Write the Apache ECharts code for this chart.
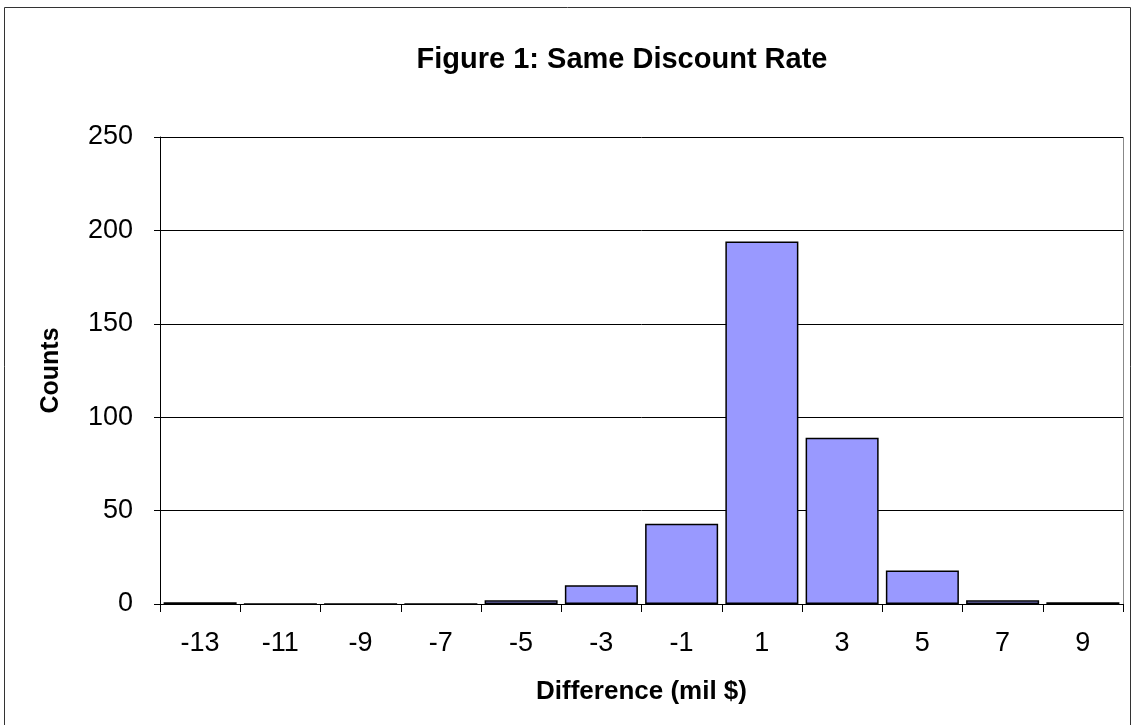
<!DOCTYPE html>
<html><head><meta charset="utf-8">
<script src="https://cdn.jsdelivr.net/npm/echarts@6/dist/echarts.min.js"></script>
<style>html,body{margin:0;padding:0;background:#fff}#c{width:1133px;height:725px}</style>
</head><body><div id="c"></div>
<script>
const categories = ['-13','-11','-9','-7','-5','-3','-1','1','3','5','7','9'];
const counts = [1, 0, 0, 0, 2, 10, 43, 194, 89, 18, 2, 1];
const yTicks = [0, 50, 100, 150, 200, 250];

const chart = echarts.init(document.getElementById('c'), null, {renderer:'canvas'});
const font = '"Liberation Sans", Arial, sans-serif';
chart.setOption({
  animation: false,
  backgroundColor: '#fff',
  title: {
    text: 'Figure 1: Same Discount Rate',
    left: 617, top: 40, textAlign: 'center',
    textStyle: {fontFamily: font, fontSize: 29, fontWeight: 'bold', color: '#000'}
  },
  graphic: [{
    type: 'rect', shape: {x: 4.5, y: 7.5, width: 1126, height: 730},
    style: {fill: 'none', stroke: '#333', lineWidth: 1}
  }, {
    type: 'line', shape: {x1: 1123.5, y1: 137, x2: 1123.5, y2: 604},
    style: {stroke: '#888', lineWidth: 1}
  }],
  grid: {left: 160, right: 10, top: 137, bottom: 121},
  xAxis: {
    type: 'category', data: categories,
    name: 'Difference (mil $)', nameLocation: 'middle', nameGap: 75,
    nameTextStyle: {fontFamily: font, fontSize: 26, fontWeight: 'bold', color: '#000'},
    axisLine: {lineStyle: {color: '#000', width: 1}},
    axisTick: {show: true, length: 8, lineStyle: {color: '#000'}, alignWithLabel: false},
    axisLabel: {fontFamily: font, fontSize: 27, color: '#000', margin: 26},
    splitLine: {show: false}
  },
  yAxis: {
    type: 'value', min: 0, max: 250, interval: 50,
    name: 'Counts', nameLocation: 'middle', nameGap: 96, nameRotate: 90,
    nameTextStyle: {fontFamily: font, fontSize: 25, fontWeight: 'bold', color: '#000'},
    axisLine: {show: true, lineStyle: {color: '#000', width: 1}},
    axisTick: {show: true, length: 6, inside: false, lineStyle: {color: '#000'}},
    axisLabel: {fontFamily: font, fontSize: 27, color: '#000', margin: 27,
      formatter: v => yTicks.includes(v) ? String(v) : ''},
    splitLine: {show: true, lineStyle: {color: '#000', width: 1}}
  },
  series: [{
    type: 'bar', data: counts, barCategoryGap: '9%',
    itemStyle: {color: '#9999FF', borderColor: '#000', borderWidth: 1.5}
  }]
});
</script></body></html>
